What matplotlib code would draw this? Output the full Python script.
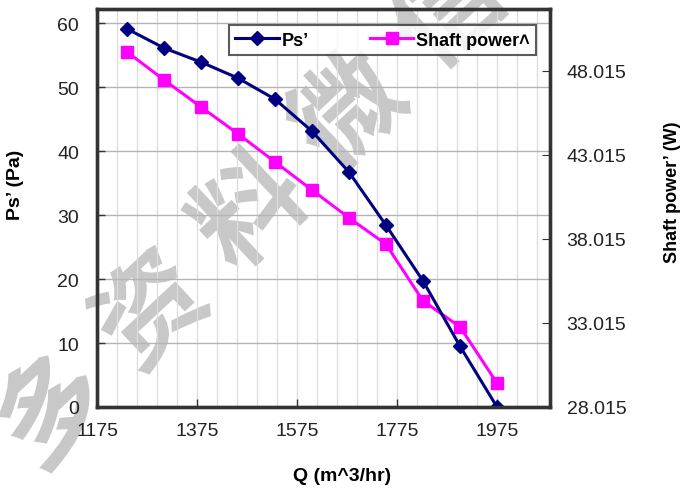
import matplotlib
matplotlib.use("Agg")
import matplotlib.pyplot as plt
import matplotlib.patheffects as pe
from matplotlib.ticker import MultipleLocator, FixedLocator

Q = [1235, 1309, 1383, 1457, 1531, 1605, 1679, 1753, 1827, 1901, 1975]
ps = [59.1, 56.1, 53.9, 51.4, 48.1, 43.1, 36.7, 28.4, 19.7, 9.5, 0.0]
shaft = [49.15, 47.48, 45.87, 44.27, 42.60, 40.93, 39.27, 37.70, 34.33, 32.78, 29.44]
xticks = [1175, 1375, 1575, 1775, 1975]
left_ticks = [0, 10, 20, 30, 40, 50, 60]
right_ticks = [28.015, 33.015, 38.015, 43.015, 48.015]
watermark = "多资料微信"

plt.rcParams['font.family'] = ['Liberation Sans', 'DejaVu Sans']

fig = plt.figure(figsize=(6.8, 4.89), dpi=100)
ax = fig.add_axes([97/680, 1 - 408/489, (550-97)/680, (408-10)/489])
ax2 = ax.twinx()

ax.set_xlim(1175, 2081)
ax.set_ylim(0, 62.2)
ax2.set_ylim(28.015, 51.7)

ax.xaxis.set_major_locator(FixedLocator(xticks))
ax.xaxis.set_minor_locator(MultipleLocator(40, offset=1175 % 40))
ax.yaxis.set_major_locator(FixedLocator(left_ticks))
ax2.yaxis.set_major_locator(FixedLocator(right_ticks))
ax2.set_yticklabels([f"{v:.3f}" for v in right_ticks])

ax.grid(which='minor', axis='x', color='#dcdcdc', lw=0.9)
ax.grid(which='major', axis='x', color='#dcdcdc', lw=0.9)
ax.grid(which='major', axis='y', color='#b4b4b4', lw=1.0)
ax.set_axisbelow(True)

# watermark: in the lower axes, beneath grid, labels and data lines
x0, y0, x1, y1 = 55, 415, 450, 15
n = len(watermark)
for i, ch in enumerate(watermark):
    px = x0 + (x1 - x0) * i / (n - 1)
    py = y0 + (y1 - y0) * i / (n - 1)
    ax.text(px / 680, 1 - py / 489, ch, transform=fig.transFigure,
            rotation=43, fontsize=78, color='#c8c8c8',
            family=['Noto Sans CJK SC'], fontweight='bold',
            ha='center', va='center', zorder=0.4, clip_on=False,
            path_effects=[pe.withStroke(linewidth=3, foreground='white')])

# both series drawn in the upper axes; Ps' uses the left-axis scale
ln2, = ax2.plot(Q, shaft, color='#FF00FF', lw=2.2, marker='s', ms=9,
                label='Shaft power\u02c4', zorder=3)
ln1, = ax2.plot(Q, ps, color='#000080', lw=2.2, marker='D', ms=7,
                label='Ps\u2019', zorder=4, transform=ax.transData)

for a in (ax, ax2):
    for s in a.spines.values():
        s.set_linewidth(2.4)
        s.set_color('#333333')
        s.set_zorder(6)

ax.tick_params(axis='both', which='major', direction='in', length=6,
               labelsize=14, colors='#333333', labelcolor='#222222', width=1)
ax.tick_params(axis='x', which='minor', length=0)
ax.tick_params(axis='x', pad=11)
ax.tick_params(axis='y', pad=13)
ax2.tick_params(axis='y', direction='in', length=6, labelsize=14,
                colors='#333333', labelcolor='#222222', pad=12)

ax.set_xlabel('Q (m^3/hr)', fontsize=14, fontweight='bold')
ax.xaxis.set_label_coords(0.54, -0.151)
ax.set_ylabel('Ps\u2019 (Pa)', fontsize=14, fontweight='bold')
ax.yaxis.set_label_coords(-0.161, 0.56)
ax2.set_ylabel('Shaft power\u2019 (W)', fontsize=13, fontweight='bold')
ax2.yaxis.set_label_coords(1.252, 0.543)

leg = ax2.legend(handles=[ln1, ln2], loc='upper right', ncol=2,
                 bbox_to_anchor=(0.977, 0.968),
                 prop={'weight': 'bold', 'size': 13}, frameon=True,
                 fancybox=False, edgecolor='#333333', handlelength=2.4,
                 columnspacing=3.4, handletextpad=0.15, borderpad=0.35,
                 borderaxespad=0.2)
leg.get_frame().set_linewidth(1.5)
leg.set_zorder(5)

ax.set_zorder(0)
ax2.set_zorder(1)
ax.patch.set_facecolor('white')
ax2.patch.set_visible(False)

fig.savefig('out.png', dpi=100)
